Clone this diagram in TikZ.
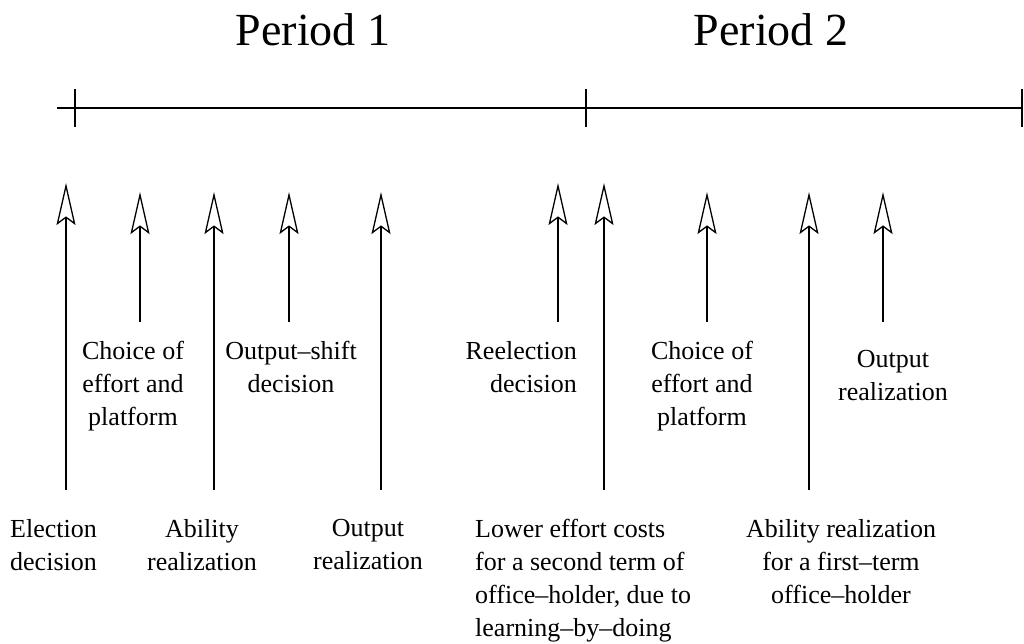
\documentclass[tikz,border=0pt]{standalone}
\usepackage{fontspec}
\setmainfont{Liberation Serif}
\usetikzlibrary{arrows.meta}
\begin{document}
\begin{tikzpicture}[x=1pt,y=-1pt,
  lbl/.style={inner sep=0pt, font=\fontsize{26}{33}\selectfont},
  ttl/.style={inner sep=0pt, anchor=base, font=\fontsize{46}{50}\selectfont},
  axis/.style={line width=1.3pt},
  tick/.style={line width=1.6pt},
  evt/.style={line width=1.3pt, -{Stealth[open, length=42pt, width=19pt, inset=7pt]}}]
\useasboundingbox (0,0) rectangle (1024,643);
% titles
\node[ttl] (p1) at (313,45) {Period 1};
\node[ttl] (p2) at (771,45) {Period 2};
% timeline
\coordinate (tl) at (57,108);
\coordinate (tr) at (1022,108);
\coordinate (t0a) at (75,89);   \coordinate (t0b) at (75,127);
\coordinate (t1a) at (586,89);  \coordinate (t1b) at (586,127);
\coordinate (t2a) at (1022,89); \coordinate (t2b) at (1022,127);
\draw[axis] (tl) -- (tr);
\draw[tick] (t0a) -- (t0b);
\draw[tick] (t1a) -- (t1b);
\draw[tick] (t2a) -- (t2b);
% arrows: start and tip coordinates
\coordinate (a1s) at (66,490);  \coordinate (a1t) at (66,183);
\coordinate (a2s) at (140,322); \coordinate (a2t) at (140,192);
\coordinate (a3s) at (214,490); \coordinate (a3t) at (214,192);
\coordinate (a4s) at (289,322); \coordinate (a4t) at (289,192);
\coordinate (a5s) at (381,490); \coordinate (a5t) at (381,192);
\coordinate (a6s) at (558,322); \coordinate (a6t) at (558,183);
\coordinate (a7s) at (604,490); \coordinate (a7t) at (604,183);
\coordinate (a8s) at (707,322); \coordinate (a8t) at (707,192);
\coordinate (a9s) at (809,490); \coordinate (a9t) at (809,192);
\coordinate (a10s) at (883,322); \coordinate (a10t) at (883,192);
\foreach \i in {1,...,10} { \draw[evt] (a\i s) -- (a\i t); }
% upper labels
\node[lbl, anchor=north, align=center] (l2) at (133,341) {Choice of\\effort and\\platform};
\node[lbl, anchor=north, align=center] (l4) at (291,341) {Output–shift\\decision};
\node[lbl, anchor=north east, align=right] (l6) at (577,341) {Reelection\\decision};
\node[lbl, anchor=north, align=center] (l8) at (702,341) {Choice of\\effort and\\platform};
\node[lbl, anchor=north, align=center] (l10) at (893,350) {Output\\realization};
% lower labels
\node[lbl, anchor=north west, align=left] (l1) at (10,519) {Election\\decision};
\node[lbl, anchor=north, align=center] (l3) at (202,519) {Ability\\realization};
\node[lbl, anchor=north, align=center] (l5) at (368,519) {Output\\realization};
\node[lbl, anchor=north west, align=left] (l7) at (475,519) {Lower effort costs\\for a second term of\\office–holder, due to\\learning–by–doing};
\node[lbl, anchor=north, align=center] (l9) at (841,519) {Ability realization\\for a first–term\\office–holder};
\end{tikzpicture}
\end{document}
